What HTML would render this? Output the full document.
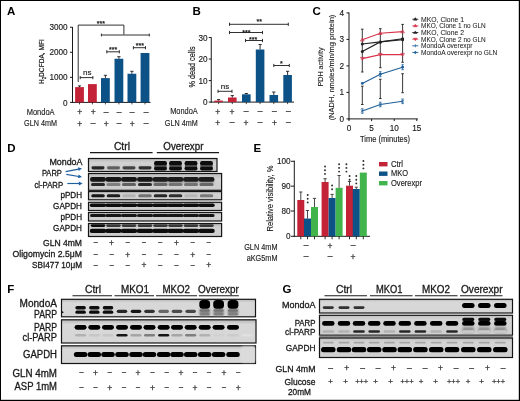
<!DOCTYPE html>
<html><head><meta charset="utf-8"><style>
html,body{margin:0;padding:0;background:#fff;}
svg{display:block;will-change:transform;}
text{font-family:"Liberation Sans",sans-serif;}
</style></head><body>
<svg width="520" height="401" viewBox="0 0 520 401" font-family="Liberation Sans, sans-serif">
<rect width="520" height="401" fill="#fff"/>
<text x="7" y="15.2" font-size="11.5" fill="#000" font-weight="bold">A</text>
<text x="192.5" y="15.2" font-size="11.5" fill="#000" font-weight="bold">B</text>
<text x="312.5" y="15.2" font-size="11.5" fill="#000" font-weight="bold">C</text>
<text x="7.3" y="151.9" font-size="11.5" fill="#000" font-weight="bold">D</text>
<text x="253.4" y="151.9" font-size="11.5" fill="#000" font-weight="bold">E</text>
<text x="7.3" y="293.2" font-size="11.5" fill="#000" font-weight="bold">F</text>
<text x="282.5" y="293.2" font-size="11.5" fill="#000" font-weight="bold">G</text>
<line x1="72.5" y1="27" x2="72.5" y2="102.9" stroke="#1a1a1a" stroke-width="1"/>
<line x1="72.0" y1="102.4" x2="150.5" y2="102.4" stroke="#1a1a1a" stroke-width="1"/>
<line x1="70" y1="27.250000000000014" x2="72.5" y2="27.250000000000014" stroke="#1a1a1a" stroke-width="1"/>
<text x="67.6" y="30.350000000000016" font-size="8.2" fill="#1a1a1a" text-anchor="end" stroke="#1a1a1a" stroke-width="0.14">3000</text>
<line x1="70" y1="52.300000000000004" x2="72.5" y2="52.300000000000004" stroke="#1a1a1a" stroke-width="1"/>
<text x="67.6" y="55.400000000000006" font-size="8.2" fill="#1a1a1a" text-anchor="end" stroke="#1a1a1a" stroke-width="0.14">2000</text>
<line x1="70" y1="77.35000000000001" x2="72.5" y2="77.35000000000001" stroke="#1a1a1a" stroke-width="1"/>
<text x="67.6" y="80.45" font-size="8.2" fill="#1a1a1a" text-anchor="end" stroke="#1a1a1a" stroke-width="0.14">1000</text>
<line x1="70" y1="102.4" x2="72.5" y2="102.4" stroke="#1a1a1a" stroke-width="1"/>
<text x="67.6" y="105.5" font-size="8.2" fill="#1a1a1a" text-anchor="end" stroke="#1a1a1a" stroke-width="0.14">0</text>
<text x="0" y="0" font-size="7.9" fill="#1a1a1a" stroke="#1a1a1a" stroke-width="0.2" text-anchor="middle" textLength="45" lengthAdjust="spacingAndGlyphs" transform="translate(43.7,61.6) rotate(-90)">H<tspan font-size="5.2" dy="1.8">2</tspan><tspan dy="-1.8">DCFDA, MFI</tspan></text>
<rect x="75.1" y="87.1" width="8.8" height="15.300000000000011" fill="#c42237"/>
<line x1="79.5" y1="87.1" x2="79.5" y2="85.9" stroke="#1a1a1a" stroke-width="0.9"/>
<line x1="77.9" y1="85.9" x2="81.1" y2="85.9" stroke="#1a1a1a" stroke-width="0.9"/>
<line x1="79.5" y1="102.4" x2="79.5" y2="104.4" stroke="#1a1a1a" stroke-width="0.8"/>
<rect x="88" y="84.1" width="8.8" height="18.30000000000001" fill="#c42237"/>
<line x1="92.4" y1="102.4" x2="92.4" y2="104.4" stroke="#1a1a1a" stroke-width="0.8"/>
<rect x="101" y="78.1" width="8.8" height="24.30000000000001" fill="#0d5287"/>
<line x1="105.4" y1="78.1" x2="105.4" y2="75.3" stroke="#1a1a1a" stroke-width="0.9"/>
<line x1="103.80000000000001" y1="75.3" x2="107.0" y2="75.3" stroke="#1a1a1a" stroke-width="0.9"/>
<line x1="105.4" y1="102.4" x2="105.4" y2="104.4" stroke="#1a1a1a" stroke-width="0.8"/>
<rect x="114.5" y="58.75" width="8.8" height="43.650000000000006" fill="#0d5287"/>
<line x1="118.9" y1="58.75" x2="118.9" y2="56.7" stroke="#1a1a1a" stroke-width="0.9"/>
<line x1="117.30000000000001" y1="56.7" x2="120.5" y2="56.7" stroke="#1a1a1a" stroke-width="0.9"/>
<line x1="118.9" y1="102.4" x2="118.9" y2="104.4" stroke="#1a1a1a" stroke-width="0.8"/>
<rect x="127.5" y="73.75" width="8.8" height="28.650000000000006" fill="#0d5287"/>
<line x1="131.9" y1="73.75" x2="131.9" y2="71.3" stroke="#1a1a1a" stroke-width="0.9"/>
<line x1="130.3" y1="71.3" x2="133.5" y2="71.3" stroke="#1a1a1a" stroke-width="0.9"/>
<line x1="131.9" y1="102.4" x2="131.9" y2="104.4" stroke="#1a1a1a" stroke-width="0.8"/>
<rect x="140.6" y="53" width="8.8" height="49.400000000000006" fill="#0d5287"/>
<line x1="145.0" y1="102.4" x2="145.0" y2="104.4" stroke="#1a1a1a" stroke-width="0.8"/>
<path d="M78.2,82 V25.1 H123.9 V34.5" stroke="#1a1a1a" stroke-width="0.9" fill="none"/>
<path d="M101.4,33.6 V36.4 M101.4,35 H149.3 M149.3,33.6 V36.4" stroke="#1a1a1a" stroke-width="0.9" fill="none"/>
<path d="M80.2,76 V79.2 M80.2,77.6 H92.9 M92.9,76 V79.2" stroke="#1a1a1a" stroke-width="0.9" fill="none"/>
<path d="M106.8,50.2 V53.4 M106.8,51.8 H119.3 M119.3,50.2 V53.4" stroke="#1a1a1a" stroke-width="0.9" fill="none"/>
<path d="M133.4,46.1 V49.3 M133.4,47.7 H145.5 M145.5,46.1 V49.3" stroke="#1a1a1a" stroke-width="0.9" fill="none"/>
<text x="100.8" y="25.7" font-size="7" fill="#1a1a1a" text-anchor="middle" stroke="#1a1a1a" stroke-width="0.25">***</text>
<text x="113.2" y="51.6" font-size="7" fill="#1a1a1a" text-anchor="middle" stroke="#1a1a1a" stroke-width="0.25">***</text>
<text x="139.8" y="48.3" font-size="7" fill="#1a1a1a" text-anchor="middle" stroke="#1a1a1a" stroke-width="0.25">***</text>
<text x="87.3" y="74.6" font-size="8" fill="#1a1a1a" text-anchor="middle" stroke="#1a1a1a" stroke-width="0.14">ns</text>
<text x="26.7" y="114.6" font-size="9.8" fill="#1a1a1a" textLength="27.9" lengthAdjust="spacingAndGlyphs" stroke="#1a1a1a" stroke-width="0.14">MondoA</text>
<text x="24.1" y="125.6" font-size="9.8" fill="#1a1a1a" textLength="32.9" lengthAdjust="spacingAndGlyphs" stroke="#1a1a1a" stroke-width="0.14">GLN 4mM</text>
<text x="79.7" y="115.4" font-size="8.5" fill="#333" text-anchor="middle" stroke="#333" stroke-width="0.25">+</text>
<text x="79.7" y="127.1" font-size="8.5" fill="#333" text-anchor="middle" stroke="#333" stroke-width="0.25">+</text>
<text x="93.2" y="115.4" font-size="8.5" fill="#333" text-anchor="middle" stroke="#333" stroke-width="0.25">+</text>
<text x="93.2" y="126.2" font-size="8.5" fill="#333" text-anchor="middle" stroke="#333" stroke-width="0.25">–</text>
<text x="106.2" y="114.5" font-size="8.5" fill="#333" text-anchor="middle" stroke="#333" stroke-width="0.25">–</text>
<text x="106.2" y="127.1" font-size="8.5" fill="#333" text-anchor="middle" stroke="#333" stroke-width="0.25">+</text>
<text x="119.2" y="114.5" font-size="8.5" fill="#333" text-anchor="middle" stroke="#333" stroke-width="0.25">–</text>
<text x="119.2" y="126.2" font-size="8.5" fill="#333" text-anchor="middle" stroke="#333" stroke-width="0.25">–</text>
<text x="132.2" y="114.5" font-size="8.5" fill="#333" text-anchor="middle" stroke="#333" stroke-width="0.25">–</text>
<text x="132.2" y="127.1" font-size="8.5" fill="#333" text-anchor="middle" stroke="#333" stroke-width="0.25">+</text>
<text x="146.1" y="114.5" font-size="8.5" fill="#333" text-anchor="middle" stroke="#333" stroke-width="0.25">–</text>
<text x="146.1" y="126.2" font-size="8.5" fill="#333" text-anchor="middle" stroke="#333" stroke-width="0.25">–</text>
<line x1="211.25" y1="37.3" x2="211.25" y2="102.6" stroke="#1a1a1a" stroke-width="1"/>
<line x1="210.75" y1="102.1" x2="294" y2="102.1" stroke="#1a1a1a" stroke-width="1"/>
<line x1="208.8" y1="37.50999999999999" x2="211.25" y2="37.50999999999999" stroke="#1a1a1a" stroke-width="1"/>
<text x="207.6" y="40.60999999999999" font-size="8.2" fill="#1a1a1a" text-anchor="end" stroke="#1a1a1a" stroke-width="0.14">30</text>
<line x1="208.8" y1="59.03999999999999" x2="211.25" y2="59.03999999999999" stroke="#1a1a1a" stroke-width="1"/>
<text x="207.6" y="62.13999999999999" font-size="8.2" fill="#1a1a1a" text-anchor="end" stroke="#1a1a1a" stroke-width="0.14">20</text>
<line x1="208.8" y1="80.57" x2="211.25" y2="80.57" stroke="#1a1a1a" stroke-width="1"/>
<text x="207.6" y="83.66999999999999" font-size="8.2" fill="#1a1a1a" text-anchor="end" stroke="#1a1a1a" stroke-width="0.14">10</text>
<line x1="208.8" y1="102.1" x2="211.25" y2="102.1" stroke="#1a1a1a" stroke-width="1"/>
<text x="207.6" y="105.19999999999999" font-size="8.2" fill="#1a1a1a" text-anchor="end" stroke="#1a1a1a" stroke-width="0.14">0</text>
<text x="0" y="0" font-size="9.6" fill="#1a1a1a" stroke="#1a1a1a" stroke-width="0.2" text-anchor="middle" textLength="41" lengthAdjust="spacingAndGlyphs" transform="translate(194.9,67) rotate(-90)">% dead cells</text>
<rect x="214.3" y="100.6" width="8.6" height="1.5" fill="#c42237"/>
<line x1="218.60000000000002" y1="100.6" x2="218.60000000000002" y2="99.6" stroke="#1a1a1a" stroke-width="0.9"/>
<line x1="217.00000000000003" y1="99.6" x2="220.20000000000002" y2="99.6" stroke="#1a1a1a" stroke-width="0.9"/>
<line x1="218.60000000000002" y1="102.1" x2="218.60000000000002" y2="104.1" stroke="#1a1a1a" stroke-width="0.8"/>
<rect x="228" y="97.5" width="8.6" height="4.599999999999994" fill="#c42237"/>
<line x1="232.3" y1="97.5" x2="232.3" y2="95.6" stroke="#1a1a1a" stroke-width="0.9"/>
<line x1="230.70000000000002" y1="95.6" x2="233.9" y2="95.6" stroke="#1a1a1a" stroke-width="0.9"/>
<line x1="232.3" y1="102.1" x2="232.3" y2="104.1" stroke="#1a1a1a" stroke-width="0.8"/>
<rect x="242" y="94.3" width="8.6" height="7.799999999999997" fill="#0d5287"/>
<line x1="246.3" y1="94.3" x2="246.3" y2="93.5" stroke="#1a1a1a" stroke-width="0.9"/>
<line x1="244.70000000000002" y1="93.5" x2="247.9" y2="93.5" stroke="#1a1a1a" stroke-width="0.9"/>
<line x1="246.3" y1="102.1" x2="246.3" y2="104.1" stroke="#1a1a1a" stroke-width="0.8"/>
<rect x="255.8" y="49.5" width="8.6" height="52.599999999999994" fill="#0d5287"/>
<line x1="260.1" y1="49.5" x2="260.1" y2="44.5" stroke="#1a1a1a" stroke-width="0.9"/>
<line x1="258.5" y1="44.5" x2="261.70000000000005" y2="44.5" stroke="#1a1a1a" stroke-width="0.9"/>
<line x1="260.1" y1="102.1" x2="260.1" y2="104.1" stroke="#1a1a1a" stroke-width="0.8"/>
<rect x="269.5" y="95" width="8.6" height="7.099999999999994" fill="#0d5287"/>
<line x1="273.8" y1="95" x2="273.8" y2="92" stroke="#1a1a1a" stroke-width="0.9"/>
<line x1="272.2" y1="92" x2="275.40000000000003" y2="92" stroke="#1a1a1a" stroke-width="0.9"/>
<line x1="273.8" y1="102.1" x2="273.8" y2="104.1" stroke="#1a1a1a" stroke-width="0.8"/>
<rect x="283.3" y="75" width="8.6" height="27.099999999999994" fill="#0d5287"/>
<line x1="287.6" y1="75" x2="287.6" y2="71.3" stroke="#1a1a1a" stroke-width="0.9"/>
<line x1="286.0" y1="71.3" x2="289.20000000000005" y2="71.3" stroke="#1a1a1a" stroke-width="0.9"/>
<line x1="287.6" y1="102.1" x2="287.6" y2="104.1" stroke="#1a1a1a" stroke-width="0.8"/>
<path d="M229.5,22.7 V25.900000000000002 M229.5,24.3 H288.3 M288.3,22.7 V25.900000000000002" stroke="#1a1a1a" stroke-width="0.9" fill="none"/>
<text x="259.3" y="24.4" font-size="7" fill="#1a1a1a" text-anchor="middle" stroke="#1a1a1a" stroke-width="0.25">**</text>
<path d="M229.5,30.9 V34.1 M229.5,32.5 H262.5 M262.5,30.9 V34.1" stroke="#1a1a1a" stroke-width="0.9" fill="none"/>
<text x="246.3" y="35.1" font-size="7" fill="#1a1a1a" text-anchor="middle" stroke="#1a1a1a" stroke-width="0.25">***</text>
<path d="M245.5,38.9 V42.1 M245.5,40.5 H262.5 M262.5,38.9 V42.1" stroke="#1a1a1a" stroke-width="0.9" fill="none"/>
<text x="253.2" y="41.7" font-size="7" fill="#1a1a1a" text-anchor="middle" stroke="#1a1a1a" stroke-width="0.25">***</text>
<path d="M273.8,63.9 V67.1 M273.8,65.5 H289.3 M289.3,63.9 V67.1" stroke="#1a1a1a" stroke-width="0.9" fill="none"/>
<text x="281.3" y="66.0" font-size="7" fill="#1a1a1a" text-anchor="middle" stroke="#1a1a1a" stroke-width="0.25">*</text>
<path d="M218,89.7 V92.89999999999999 M218,91.3 H232 M232,89.7 V92.89999999999999" stroke="#1a1a1a" stroke-width="0.9" fill="none"/>
<text x="225" y="89.0" font-size="8" fill="#1a1a1a" text-anchor="middle" stroke="#1a1a1a" stroke-width="0.14">ns</text>
<text x="170.2" y="114.3" font-size="9.8" fill="#1a1a1a" textLength="27.5" lengthAdjust="spacingAndGlyphs" stroke="#1a1a1a" stroke-width="0.14">MondoA</text>
<text x="164.8" y="125.6" font-size="9.8" fill="#1a1a1a" textLength="32.9" lengthAdjust="spacingAndGlyphs" stroke="#1a1a1a" stroke-width="0.14">GLN 4mM</text>
<text x="217.8" y="114.9" font-size="8.5" fill="#333" text-anchor="middle" stroke="#333" stroke-width="0.25">+</text>
<text x="217.8" y="126.1" font-size="8.5" fill="#333" text-anchor="middle" stroke="#333" stroke-width="0.25">+</text>
<text x="232.1" y="114.9" font-size="8.5" fill="#333" text-anchor="middle" stroke="#333" stroke-width="0.25">+</text>
<text x="232.1" y="125.2" font-size="8.5" fill="#333" text-anchor="middle" stroke="#333" stroke-width="0.25">–</text>
<text x="246.1" y="114.0" font-size="8.5" fill="#333" text-anchor="middle" stroke="#333" stroke-width="0.25">–</text>
<text x="246.1" y="126.1" font-size="8.5" fill="#333" text-anchor="middle" stroke="#333" stroke-width="0.25">+</text>
<text x="260.1" y="114.0" font-size="8.5" fill="#333" text-anchor="middle" stroke="#333" stroke-width="0.25">–</text>
<text x="260.1" y="125.2" font-size="8.5" fill="#333" text-anchor="middle" stroke="#333" stroke-width="0.25">–</text>
<text x="274.4" y="114.0" font-size="8.5" fill="#333" text-anchor="middle" stroke="#333" stroke-width="0.25">–</text>
<text x="274.4" y="126.1" font-size="8.5" fill="#333" text-anchor="middle" stroke="#333" stroke-width="0.25">+</text>
<text x="288.4" y="114.0" font-size="8.5" fill="#333" text-anchor="middle" stroke="#333" stroke-width="0.25">–</text>
<text x="288.4" y="125.2" font-size="8.5" fill="#333" text-anchor="middle" stroke="#333" stroke-width="0.25">–</text>
<line x1="349" y1="12.5" x2="349" y2="119.4" stroke="#1a1a1a" stroke-width="1"/>
<line x1="348.5" y1="118.9" x2="417.8" y2="118.9" stroke="#1a1a1a" stroke-width="1"/>
<line x1="346.5" y1="118.9" x2="349" y2="118.9" stroke="#1a1a1a" stroke-width="1"/>
<text x="344" y="121.9" font-size="8.2" fill="#1a1a1a" text-anchor="end" stroke="#1a1a1a" stroke-width="0.14">0</text>
<line x1="346.5" y1="92.4" x2="349" y2="92.4" stroke="#1a1a1a" stroke-width="1"/>
<text x="344" y="95.4" font-size="8.2" fill="#1a1a1a" text-anchor="end" stroke="#1a1a1a" stroke-width="0.14">1</text>
<line x1="346.5" y1="65.9" x2="349" y2="65.9" stroke="#1a1a1a" stroke-width="1"/>
<text x="344" y="68.9" font-size="8.2" fill="#1a1a1a" text-anchor="end" stroke="#1a1a1a" stroke-width="0.14">2</text>
<line x1="346.5" y1="39.400000000000006" x2="349" y2="39.400000000000006" stroke="#1a1a1a" stroke-width="1"/>
<text x="344" y="42.400000000000006" font-size="8.2" fill="#1a1a1a" text-anchor="end" stroke="#1a1a1a" stroke-width="0.14">3</text>
<line x1="346.5" y1="12.900000000000006" x2="349" y2="12.900000000000006" stroke="#1a1a1a" stroke-width="1"/>
<text x="344" y="15.900000000000006" font-size="8.2" fill="#1a1a1a" text-anchor="end" stroke="#1a1a1a" stroke-width="0.14">4</text>
<line x1="349.0" y1="118.9" x2="349.0" y2="121.10000000000001" stroke="#1a1a1a" stroke-width="1"/>
<text x="349.0" y="131" font-size="8.2" fill="#1a1a1a" text-anchor="middle" stroke="#1a1a1a" stroke-width="0.14">0</text>
<line x1="371.6" y1="118.9" x2="371.6" y2="121.10000000000001" stroke="#1a1a1a" stroke-width="1"/>
<text x="371.6" y="131" font-size="8.2" fill="#1a1a1a" text-anchor="middle" stroke="#1a1a1a" stroke-width="0.14">5</text>
<line x1="394.2" y1="118.9" x2="394.2" y2="121.10000000000001" stroke="#1a1a1a" stroke-width="1"/>
<text x="394.2" y="131" font-size="8.2" fill="#1a1a1a" text-anchor="middle" stroke="#1a1a1a" stroke-width="0.14">10</text>
<line x1="416.8" y1="118.9" x2="416.8" y2="121.10000000000001" stroke="#1a1a1a" stroke-width="1"/>
<text x="416.8" y="131" font-size="8.2" fill="#1a1a1a" text-anchor="middle" stroke="#1a1a1a" stroke-width="0.14">15</text>
<text x="385" y="141.6" font-size="8.6" fill="#1a1a1a" text-anchor="middle" textLength="50" lengthAdjust="spacingAndGlyphs" stroke="#1a1a1a" stroke-width="0.14">Time (minutes)</text>
<text x="0" y="0" font-size="7.9" fill="#1a1a1a" stroke="#1a1a1a" stroke-width="0.1" text-anchor="middle" textLength="39" lengthAdjust="spacingAndGlyphs" transform="translate(323.2,67) rotate(-90)">PDH activity</text>
<text x="0" y="0" font-size="7.9" fill="#1a1a1a" stroke="#1a1a1a" stroke-width="0.1" text-anchor="middle" textLength="105.6" lengthAdjust="spacingAndGlyphs" transform="translate(334,67.5) rotate(-90)">(NADH, nmoles/min/mg protein)</text>
<line x1="362.3" y1="29.2" x2="362.3" y2="72" stroke="#222" stroke-width="0.9"/>
<line x1="361.0" y1="29.2" x2="363.6" y2="29.2" stroke="#222" stroke-width="0.9"/>
<line x1="361.0" y1="72" x2="363.6" y2="72" stroke="#222" stroke-width="0.9"/>
<line x1="362.3" y1="86.2" x2="362.3" y2="104.5" stroke="#222" stroke-width="0.9"/>
<line x1="361.0" y1="86.2" x2="363.6" y2="86.2" stroke="#222" stroke-width="0.9"/>
<line x1="361.0" y1="104.5" x2="363.6" y2="104.5" stroke="#222" stroke-width="0.9"/>
<line x1="380.3" y1="28.7" x2="380.3" y2="67.7" stroke="#222" stroke-width="0.9"/>
<line x1="379.0" y1="28.7" x2="381.6" y2="28.7" stroke="#222" stroke-width="0.9"/>
<line x1="379.0" y1="67.7" x2="381.6" y2="67.7" stroke="#222" stroke-width="0.9"/>
<line x1="380.3" y1="79.3" x2="380.3" y2="98.5" stroke="#222" stroke-width="0.9"/>
<line x1="379.0" y1="79.3" x2="381.6" y2="79.3" stroke="#222" stroke-width="0.9"/>
<line x1="379.0" y1="98.5" x2="381.6" y2="98.5" stroke="#222" stroke-width="0.9"/>
<line x1="402.6" y1="24.4" x2="402.6" y2="62.3" stroke="#222" stroke-width="0.9"/>
<line x1="401.3" y1="24.4" x2="403.90000000000003" y2="24.4" stroke="#222" stroke-width="0.9"/>
<line x1="401.3" y1="62.3" x2="403.90000000000003" y2="62.3" stroke="#222" stroke-width="0.9"/>
<line x1="402.6" y1="73.7" x2="402.6" y2="92.7" stroke="#222" stroke-width="0.9"/>
<line x1="401.3" y1="73.7" x2="403.90000000000003" y2="73.7" stroke="#222" stroke-width="0.9"/>
<line x1="401.3" y1="92.7" x2="403.90000000000003" y2="92.7" stroke="#222" stroke-width="0.9"/>
<polyline points="362.3,44 380.3,41.9 402.6,38.8" fill="none" stroke="#222" stroke-width="1.1"/>
<circle cx="362.3" cy="44" r="1.5" fill="#222"/>
<circle cx="380.3" cy="41.9" r="1.5" fill="#222"/>
<circle cx="402.6" cy="38.8" r="1.5" fill="#222"/>
<polyline points="362.3,51.5 380.3,41.9 402.6,39.8" fill="none" stroke="#222" stroke-width="1.1"/>
<circle cx="362.3" cy="51.5" r="1.5" fill="#222"/>
<circle cx="380.3" cy="41.9" r="1.5" fill="#222"/>
<circle cx="402.6" cy="39.8" r="1.5" fill="#222"/>
<polyline points="362.3,39.8 380.3,33.3 402.6,31.6" fill="none" stroke="#d8344b" stroke-width="1.1"/>
<path d="M360.5,41.0 L362.3,38.0 L364.1,41.0 Z" fill="none" stroke="#d8344b" stroke-width="0.8"/>
<path d="M378.5,34.5 L380.3,31.499999999999996 L382.1,34.5 Z" fill="none" stroke="#d8344b" stroke-width="0.8"/>
<path d="M400.8,32.800000000000004 L402.6,29.8 L404.40000000000003,32.800000000000004 Z" fill="none" stroke="#d8344b" stroke-width="0.8"/>
<polyline points="362.3,58.6 380.3,54.6 402.6,54.6" fill="none" stroke="#d8344b" stroke-width="1.1"/>
<path d="M360.5,57.4 L362.3,60.4 L364.1,57.4 Z" fill="none" stroke="#d8344b" stroke-width="0.8"/>
<path d="M378.5,53.4 L380.3,56.4 L382.1,53.4 Z" fill="none" stroke="#d8344b" stroke-width="0.8"/>
<path d="M400.8,53.4 L402.6,56.4 L404.40000000000003,53.4 Z" fill="none" stroke="#d8344b" stroke-width="0.8"/>
<polyline points="362.3,83.4 380.3,74.2 402.6,67.2" fill="none" stroke="#1f5f99" stroke-width="1.1"/>
<circle cx="362.3" cy="83.4" r="1.4" fill="#1f5f99"/>
<circle cx="380.3" cy="74.2" r="1.4" fill="#1f5f99"/>
<circle cx="402.6" cy="67.2" r="1.4" fill="#1f5f99"/>
<polyline points="362.3,111 380.3,104.5 402.6,101.3" fill="none" stroke="#1f5f99" stroke-width="1.1"/>
<path d="M360.90000000000003,109.6 L363.7,112.4 M360.90000000000003,112.4 L363.7,109.6" stroke="#1f5f99" stroke-width="0.7"/>
<path d="M378.90000000000003,103.1 L381.7,105.9 M378.90000000000003,105.9 L381.7,103.1" stroke="#1f5f99" stroke-width="0.7"/>
<path d="M401.20000000000005,99.89999999999999 L404.0,102.7 M401.20000000000005,102.7 L404.0,99.89999999999999" stroke="#1f5f99" stroke-width="0.7"/>
<line x1="380.3" y1="71.7" x2="380.3" y2="76.7" stroke="#1f5f99" stroke-width="0.8"/>
<line x1="379.1" y1="71.7" x2="381.5" y2="71.7" stroke="#1f5f99" stroke-width="0.8"/>
<line x1="379.1" y1="76.7" x2="381.5" y2="76.7" stroke="#1f5f99" stroke-width="0.8"/>
<line x1="402.6" y1="64.7" x2="402.6" y2="69.7" stroke="#1f5f99" stroke-width="0.8"/>
<line x1="401.40000000000003" y1="64.7" x2="403.8" y2="64.7" stroke="#1f5f99" stroke-width="0.8"/>
<line x1="401.40000000000003" y1="69.7" x2="403.8" y2="69.7" stroke="#1f5f99" stroke-width="0.8"/>
<line x1="362.3" y1="108.7" x2="362.3" y2="113.3" stroke="#1f5f99" stroke-width="0.8"/>
<line x1="361.1" y1="108.7" x2="363.5" y2="108.7" stroke="#1f5f99" stroke-width="0.8"/>
<line x1="361.1" y1="113.3" x2="363.5" y2="113.3" stroke="#1f5f99" stroke-width="0.8"/>
<line x1="380.3" y1="102.2" x2="380.3" y2="106.8" stroke="#1f5f99" stroke-width="0.8"/>
<line x1="379.1" y1="102.2" x2="381.5" y2="102.2" stroke="#1f5f99" stroke-width="0.8"/>
<line x1="379.1" y1="106.8" x2="381.5" y2="106.8" stroke="#1f5f99" stroke-width="0.8"/>
<line x1="402.6" y1="99.0" x2="402.6" y2="103.6" stroke="#1f5f99" stroke-width="0.8"/>
<line x1="401.40000000000003" y1="99.0" x2="403.8" y2="99.0" stroke="#1f5f99" stroke-width="0.8"/>
<line x1="401.40000000000003" y1="103.6" x2="403.8" y2="103.6" stroke="#1f5f99" stroke-width="0.8"/>
<line x1="412.3" y1="19.2" x2="418.3" y2="19.2" stroke="#222" stroke-width="0.9"/>
<path d="M413.6,20.2 L415.3,17.599999999999998 L417.0,20.2 Z" fill="#222" stroke="#222" stroke-width="0.5"/>
<text x="421" y="21.7" font-size="7.2" fill="#1a1a1a" textLength="43" lengthAdjust="spacingAndGlyphs" stroke="#1a1a1a" stroke-width="0.05">MKO, Clone 1</text>
<line x1="412.3" y1="25.85" x2="418.3" y2="25.85" stroke="#d8344b" stroke-width="0.9"/>
<path d="M413.6,26.85 L415.3,24.25 L417.0,26.85 Z" fill="#d8344b" stroke="#d8344b" stroke-width="0.5"/>
<text x="421" y="28.35" font-size="7.2" fill="#1a1a1a" textLength="64.7" lengthAdjust="spacingAndGlyphs" stroke="#1a1a1a" stroke-width="0.05">MKO, Clone 1 no GLN</text>
<line x1="412.3" y1="32.5" x2="418.3" y2="32.5" stroke="#222" stroke-width="0.9"/>
<path d="M413.6,33.5 L415.3,30.9 L417.0,33.5 Z" fill="#222" stroke="#222" stroke-width="0.5"/>
<text x="421" y="35.0" font-size="7.2" fill="#1a1a1a" textLength="43" lengthAdjust="spacingAndGlyphs" stroke="#1a1a1a" stroke-width="0.05">MKO, Clone 2</text>
<line x1="412.3" y1="39.150000000000006" x2="418.3" y2="39.150000000000006" stroke="#d8344b" stroke-width="0.9"/>
<path d="M413.6,38.150000000000006 L415.3,40.75000000000001 L417.0,38.150000000000006 Z" fill="#d8344b" stroke="#d8344b" stroke-width="0.5"/>
<text x="421" y="41.650000000000006" font-size="7.2" fill="#1a1a1a" textLength="64.7" lengthAdjust="spacingAndGlyphs" stroke="#1a1a1a" stroke-width="0.05">MKO, Clone 2 no GLN</text>
<line x1="412.3" y1="45.8" x2="418.3" y2="45.8" stroke="#1f5f99" stroke-width="0.9"/>
<line x1="415.3" y1="44.3" x2="415.3" y2="47.3" stroke="#1f5f99" stroke-width="0.8"/>
<text x="421" y="48.3" font-size="7.2" fill="#1a1a1a" textLength="51.5" lengthAdjust="spacingAndGlyphs" stroke="#1a1a1a" stroke-width="0.05">MondoA overexpr</text>
<line x1="412.3" y1="52.45" x2="418.3" y2="52.45" stroke="#1f5f99" stroke-width="0.9"/>
<path d="M415.3,50.650000000000006 L416.8,52.45 L415.3,54.25 L413.8,52.45 Z" fill="#1f5f99"/>
<text x="421" y="54.95" font-size="7.2" fill="#1a1a1a" textLength="76.4" lengthAdjust="spacingAndGlyphs" stroke="#1a1a1a" stroke-width="0.05">MondoA overexpr no GLN</text>
<line x1="294.3" y1="160.6" x2="294.3" y2="236.8" stroke="#1a1a1a" stroke-width="1"/>
<line x1="293.8" y1="236.3" x2="370" y2="236.3" stroke="#1a1a1a" stroke-width="1"/>
<line x1="291" y1="161.3" x2="294.3" y2="161.3" stroke="#1a1a1a" stroke-width="1"/>
<text x="290.6" y="164.4" font-size="8.2" fill="#1a1a1a" text-anchor="end" stroke="#1a1a1a" stroke-width="0.14">100</text>
<line x1="291" y1="186.15" x2="294.3" y2="186.15" stroke="#1a1a1a" stroke-width="1"/>
<text x="290.6" y="189.25" font-size="8.2" fill="#1a1a1a" text-anchor="end" stroke="#1a1a1a" stroke-width="0.14">90</text>
<line x1="291" y1="211.0" x2="294.3" y2="211.0" stroke="#1a1a1a" stroke-width="1"/>
<text x="290.6" y="214.1" font-size="8.2" fill="#1a1a1a" text-anchor="end" stroke="#1a1a1a" stroke-width="0.14">80</text>
<line x1="291" y1="236.3" x2="294.3" y2="236.3" stroke="#1a1a1a" stroke-width="1"/>
<text x="290.6" y="239.4" font-size="8.2" fill="#1a1a1a" text-anchor="end" stroke="#1a1a1a" stroke-width="0.14">0</text>
<text x="0" y="0" font-size="8.8" fill="#1a1a1a" stroke="#1a1a1a" stroke-width="0.12" text-anchor="middle" textLength="66" lengthAdjust="spacingAndGlyphs" transform="translate(272.8,198.5) rotate(-90)">Relative visibility, %</text>
<rect x="297.3" y="200" width="7" height="36.30000000000001" fill="#c42237"/>
<line x1="300.8" y1="200" x2="300.8" y2="192" stroke="#333" stroke-width="0.9"/>
<line x1="299.2" y1="192" x2="302.40000000000003" y2="192" stroke="#333" stroke-width="0.9"/>
<line x1="300.8" y1="236.3" x2="300.8" y2="239.3" stroke="#1a1a1a" stroke-width="0.9"/>
<rect x="304" y="218.5" width="7" height="17.80000000000001" fill="#0d5287"/>
<line x1="307.5" y1="218.5" x2="307.5" y2="210.5" stroke="#333" stroke-width="0.9"/>
<line x1="305.9" y1="210.5" x2="309.1" y2="210.5" stroke="#333" stroke-width="0.9"/>
<line x1="307.5" y1="236.3" x2="307.5" y2="239.3" stroke="#1a1a1a" stroke-width="0.9"/>
<rect x="311" y="207" width="7" height="29.30000000000001" fill="#41b44b"/>
<line x1="314.5" y1="207" x2="314.5" y2="198.4" stroke="#333" stroke-width="0.9"/>
<line x1="312.9" y1="198.4" x2="316.1" y2="198.4" stroke="#333" stroke-width="0.9"/>
<line x1="314.5" y1="236.3" x2="314.5" y2="239.3" stroke="#1a1a1a" stroke-width="0.9"/>
<rect x="321.6" y="182" width="7" height="54.30000000000001" fill="#c42237"/>
<line x1="325.1" y1="182" x2="325.1" y2="178.7" stroke="#333" stroke-width="0.9"/>
<line x1="323.5" y1="178.7" x2="326.70000000000005" y2="178.7" stroke="#333" stroke-width="0.9"/>
<line x1="325.1" y1="236.3" x2="325.1" y2="239.3" stroke="#1a1a1a" stroke-width="0.9"/>
<rect x="328.6" y="198" width="7" height="38.30000000000001" fill="#0d5287"/>
<line x1="332.1" y1="198" x2="332.1" y2="194.4" stroke="#333" stroke-width="0.9"/>
<line x1="330.5" y1="194.4" x2="333.70000000000005" y2="194.4" stroke="#333" stroke-width="0.9"/>
<line x1="332.1" y1="236.3" x2="332.1" y2="239.3" stroke="#1a1a1a" stroke-width="0.9"/>
<rect x="335.6" y="187.8" width="7" height="48.5" fill="#41b44b"/>
<line x1="339.1" y1="187.8" x2="339.1" y2="175.5" stroke="#333" stroke-width="0.9"/>
<line x1="337.5" y1="175.5" x2="340.70000000000005" y2="175.5" stroke="#333" stroke-width="0.9"/>
<line x1="339.1" y1="236.3" x2="339.1" y2="239.3" stroke="#1a1a1a" stroke-width="0.9"/>
<rect x="346" y="185.7" width="7" height="50.60000000000002" fill="#c42237"/>
<line x1="349.5" y1="185.7" x2="349.5" y2="181.5" stroke="#333" stroke-width="0.9"/>
<line x1="347.9" y1="181.5" x2="351.1" y2="181.5" stroke="#333" stroke-width="0.9"/>
<line x1="349.5" y1="236.3" x2="349.5" y2="239.3" stroke="#1a1a1a" stroke-width="0.9"/>
<rect x="352.8" y="189" width="7" height="47.30000000000001" fill="#0d5287"/>
<line x1="356.3" y1="189" x2="356.3" y2="187.2" stroke="#333" stroke-width="0.9"/>
<line x1="354.7" y1="187.2" x2="357.90000000000003" y2="187.2" stroke="#333" stroke-width="0.9"/>
<line x1="356.3" y1="236.3" x2="356.3" y2="239.3" stroke="#1a1a1a" stroke-width="0.9"/>
<rect x="359.8" y="172.6" width="7" height="63.70000000000002" fill="#41b44b"/>
<line x1="363.3" y1="236.3" x2="363.3" y2="239.3" stroke="#1a1a1a" stroke-width="0.9"/>
<circle cx="307.7" cy="195.0" r="0.95" fill="#2a2a2a"/>
<circle cx="307.7" cy="198.7" r="0.95" fill="#2a2a2a"/>
<circle cx="307.7" cy="202.4" r="0.95" fill="#2a2a2a"/>
<circle cx="325" cy="166.5" r="0.95" fill="#2a2a2a"/>
<circle cx="325" cy="170.2" r="0.95" fill="#2a2a2a"/>
<circle cx="325" cy="173.9" r="0.95" fill="#2a2a2a"/>
<circle cx="332.1" cy="185.5" r="0.95" fill="#2a2a2a"/>
<circle cx="332.1" cy="189.2" r="0.95" fill="#2a2a2a"/>
<circle cx="339.1" cy="164.2" r="0.95" fill="#2a2a2a"/>
<circle cx="339.1" cy="167.89999999999998" r="0.95" fill="#2a2a2a"/>
<circle cx="339.1" cy="171.6" r="0.95" fill="#2a2a2a"/>
<circle cx="346.4" cy="164.2" r="0.95" fill="#2a2a2a"/>
<circle cx="346.4" cy="167.89999999999998" r="0.95" fill="#2a2a2a"/>
<circle cx="346.4" cy="171.6" r="0.95" fill="#2a2a2a"/>
<circle cx="349.6" cy="176.0" r="0.95" fill="#2a2a2a"/>
<circle cx="349.6" cy="179.7" r="0.95" fill="#2a2a2a"/>
<circle cx="356.3" cy="176.0" r="0.95" fill="#2a2a2a"/>
<circle cx="356.3" cy="179.7" r="0.95" fill="#2a2a2a"/>
<circle cx="356.3" cy="183.4" r="0.95" fill="#2a2a2a"/>
<circle cx="363.4" cy="161.0" r="0.95" fill="#2a2a2a"/>
<circle cx="363.4" cy="164.7" r="0.95" fill="#2a2a2a"/>
<circle cx="363.4" cy="168.4" r="0.95" fill="#2a2a2a"/>
<rect x="379" y="162.0" width="8.5" height="4.4" fill="#c42237"/>
<text x="391" y="166.6" font-size="8.2" fill="#1a1a1a" textLength="12" lengthAdjust="spacingAndGlyphs" stroke="#1a1a1a" stroke-width="0.14">Ctrl</text>
<rect x="379" y="171.5" width="8.5" height="4.4" fill="#0d5287"/>
<text x="391" y="176.1" font-size="8.2" fill="#1a1a1a" textLength="17" lengthAdjust="spacingAndGlyphs" stroke="#1a1a1a" stroke-width="0.14">MKO</text>
<rect x="379" y="181.0" width="8.5" height="4.4" fill="#41b44b"/>
<text x="391" y="185.6" font-size="8.2" fill="#1a1a1a" textLength="31" lengthAdjust="spacingAndGlyphs" stroke="#1a1a1a" stroke-width="0.14">Overexpr</text>
<text x="277.5" y="250" font-size="9.6" fill="#1a1a1a" text-anchor="end" textLength="33.3" lengthAdjust="spacingAndGlyphs" stroke="#1a1a1a" stroke-width="0.14">GLN 4mM</text>
<text x="277.5" y="261.3" font-size="9.6" fill="#1a1a1a" text-anchor="end" textLength="30.8" lengthAdjust="spacingAndGlyphs" stroke="#1a1a1a" stroke-width="0.14">aKG5mM</text>
<text x="306.1" y="247.85" font-size="8.5" fill="#333" text-anchor="middle" stroke="#333" stroke-width="0.25">–</text>
<text x="306.1" y="259.05" font-size="8.5" fill="#333" text-anchor="middle" stroke="#333" stroke-width="0.25">–</text>
<text x="330.1" y="248.75" font-size="8.5" fill="#333" text-anchor="middle" stroke="#333" stroke-width="0.25">+</text>
<text x="330.1" y="259.05" font-size="8.5" fill="#333" text-anchor="middle" stroke="#333" stroke-width="0.25">–</text>
<text x="353.1" y="247.85" font-size="8.5" fill="#333" text-anchor="middle" stroke="#333" stroke-width="0.25">–</text>
<text x="353.1" y="259.95" font-size="8.5" fill="#333" text-anchor="middle" stroke="#333" stroke-width="0.25">+</text>
<defs><filter id="bl" x="-30%" y="-80%" width="160%" height="260%"><feGaussianBlur stdDeviation="0.75"/></filter><filter id="bl2" x="-30%" y="-80%" width="160%" height="260%"><feGaussianBlur stdDeviation="1.2"/></filter><linearGradient id="bgD" x1="0" y1="0" x2="0" y2="1"><stop offset="0" stop-color="#bababa"/><stop offset="0.35" stop-color="#d2d2d2"/><stop offset="1" stop-color="#cbcbcb"/></linearGradient><linearGradient id="bgF" x1="0" y1="0" x2="0" y2="1"><stop offset="0" stop-color="#b8b8b8"/><stop offset="0.2" stop-color="#d8d8d8"/><stop offset="1" stop-color="#d6d6d6"/></linearGradient><linearGradient id="bgG" x1="0" y1="0" x2="0" y2="1"><stop offset="0" stop-color="#c0c0c0"/><stop offset="0.2" stop-color="#d4d4d4"/><stop offset="1" stop-color="#cfcfcf"/></linearGradient></defs>
<text x="113.9" y="150.2" font-size="10" fill="#1a1a1a" textLength="16.1" lengthAdjust="spacingAndGlyphs" stroke="#1a1a1a" stroke-width="0.3">Ctrl</text>
<text x="163.3" y="150.2" font-size="10" fill="#1a1a1a" textLength="40.1" lengthAdjust="spacingAndGlyphs" stroke="#1a1a1a" stroke-width="0.3">Overexpr</text>
<line x1="90" y1="152.6" x2="152.6" y2="152.6" stroke="#1a1a1a" stroke-width="1.1"/>
<line x1="156.8" y1="152.6" x2="219" y2="152.6" stroke="#1a1a1a" stroke-width="1.1"/>
<text x="82.5" y="164.8" font-size="8.9" fill="#1a1a1a" text-anchor="end" textLength="33.1" lengthAdjust="spacingAndGlyphs" stroke="#1a1a1a" stroke-width="0.3">MondoA</text>
<text x="61.9" y="176.3" font-size="8.9" fill="#1a1a1a" text-anchor="end" textLength="20" lengthAdjust="spacingAndGlyphs" stroke="#1a1a1a" stroke-width="0.3">PARP</text>
<text x="63.1" y="187.5" font-size="8.9" fill="#1a1a1a" text-anchor="end" textLength="28.7" lengthAdjust="spacingAndGlyphs" stroke="#1a1a1a" stroke-width="0.3">cl-PARP</text>
<text x="82" y="198.1" font-size="8.9" fill="#1a1a1a" text-anchor="end" textLength="21.6" lengthAdjust="spacingAndGlyphs" stroke="#1a1a1a" stroke-width="0.3">pPDH</text>
<text x="82" y="209.1" font-size="8.9" fill="#1a1a1a" text-anchor="end" textLength="28.9" lengthAdjust="spacingAndGlyphs" stroke="#1a1a1a" stroke-width="0.3">GAPDH</text>
<text x="82" y="220" font-size="8.9" fill="#1a1a1a" text-anchor="end" textLength="21.6" lengthAdjust="spacingAndGlyphs" stroke="#1a1a1a" stroke-width="0.3">pPDH</text>
<text x="82" y="231.4" font-size="8.9" fill="#1a1a1a" text-anchor="end" textLength="28.9" lengthAdjust="spacingAndGlyphs" stroke="#1a1a1a" stroke-width="0.3">GAPDH</text>
<line x1="65.6" y1="171.6" x2="78.75742062602656" y2="169.1129265889828" stroke="#1d5fa0" stroke-width="1.15"/>
<path d="M82.00,168.50 L78.62,171.07 L77.91,167.34 Z" fill="#1d5fa0"/>
<line x1="66.3" y1="174.4" x2="78.74434133749372" y2="176.46084633614547" stroke="#1d5fa0" stroke-width="1.15"/>
<path d="M82.00,177.00 L77.94,178.25 L78.56,174.50 Z" fill="#1d5fa0"/>
<line x1="67.3" y1="183.5" x2="79.3" y2="183.5" stroke="#1d5fa0" stroke-width="1.15"/>
<path d="M82.60,183.50 L78.80,185.40 L78.80,181.60 Z" fill="#1d5fa0"/>
<rect x="88.5" y="158.5" width="128.5" height="13.0" fill="url(#bgD)" stroke="#151515" stroke-width="1.2"/>
<rect x="91.50" y="166.00" width="13.00" height="3.60" rx="1.80" fill="rgb(38,38,38)" filter="url(#bl)"/>
<rect x="92.00" y="164.20" width="12.00" height="2.00" rx="1.00" fill="rgb(204,204,204)" filter="url(#bl)"/>
<rect x="107.00" y="166.00" width="13.00" height="3.60" rx="1.80" fill="rgb(96,96,96)" filter="url(#bl)"/>
<rect x="107.50" y="164.20" width="12.00" height="2.00" rx="1.00" fill="rgb(204,204,204)" filter="url(#bl)"/>
<rect x="122.50" y="166.00" width="13.00" height="3.60" rx="1.80" fill="rgb(66,66,66)" filter="url(#bl)"/>
<rect x="123.00" y="164.20" width="12.00" height="2.00" rx="1.00" fill="rgb(204,204,204)" filter="url(#bl)"/>
<rect x="138.50" y="166.00" width="13.00" height="3.60" rx="1.80" fill="rgb(45,45,45)" filter="url(#bl)"/>
<rect x="139.00" y="164.20" width="12.00" height="2.00" rx="1.00" fill="rgb(204,204,204)" filter="url(#bl)"/>
<rect x="154.00" y="161.10" width="13.00" height="4.60" rx="2.30" fill="rgb(7,7,7)" filter="url(#bl)"/>
<rect x="154.00" y="166.30" width="13.00" height="4.20" rx="2.10" fill="rgb(10,10,10)" filter="url(#bl)"/>
<rect x="154.25" y="165.00" width="12.50" height="2.00" rx="1.00" fill="rgb(71,71,71)" filter="url(#bl)"/>
<rect x="169.00" y="161.10" width="13.00" height="4.60" rx="2.30" fill="rgb(7,7,7)" filter="url(#bl)"/>
<rect x="169.00" y="166.30" width="13.00" height="4.20" rx="2.10" fill="rgb(10,10,10)" filter="url(#bl)"/>
<rect x="169.25" y="165.00" width="12.50" height="2.00" rx="1.00" fill="rgb(71,71,71)" filter="url(#bl)"/>
<rect x="184.50" y="161.10" width="13.00" height="4.60" rx="2.30" fill="rgb(7,7,7)" filter="url(#bl)"/>
<rect x="184.50" y="166.30" width="13.00" height="4.20" rx="2.10" fill="rgb(10,10,10)" filter="url(#bl)"/>
<rect x="184.75" y="165.00" width="12.50" height="2.00" rx="1.00" fill="rgb(71,71,71)" filter="url(#bl)"/>
<rect x="200.00" y="161.10" width="13.00" height="4.60" rx="2.30" fill="rgb(7,7,7)" filter="url(#bl)"/>
<rect x="200.00" y="166.30" width="13.00" height="4.20" rx="2.10" fill="rgb(10,10,10)" filter="url(#bl)"/>
<rect x="200.25" y="165.00" width="12.50" height="2.00" rx="1.00" fill="rgb(71,71,71)" filter="url(#bl)"/>
<rect x="88.5" y="173.5" width="133.1" height="16.80000000000001" fill="url(#bgD)" stroke="#151515" stroke-width="1.2"/>
<rect x="90.50" y="180.50" width="15.00" height="3.00" rx="1.50" fill="rgb(178,178,178)" filter="url(#bl2)"/>
<rect x="90.00" y="177.10" width="16.00" height="4.60" rx="2.30" fill="rgb(20,20,20)" filter="url(#bl)"/>
<rect x="91.00" y="182.90" width="14.00" height="3.00" rx="1.50" fill="rgb(38,38,38)" filter="url(#bl)"/>
<rect x="106.00" y="180.50" width="15.00" height="3.00" rx="1.50" fill="rgb(178,178,178)" filter="url(#bl2)"/>
<rect x="105.50" y="177.10" width="16.00" height="4.60" rx="2.30" fill="rgb(20,20,20)" filter="url(#bl)"/>
<rect x="106.50" y="182.90" width="14.00" height="3.00" rx="1.50" fill="rgb(127,127,127)" filter="url(#bl)"/>
<rect x="121.50" y="180.50" width="15.00" height="3.00" rx="1.50" fill="rgb(178,178,178)" filter="url(#bl2)"/>
<rect x="121.00" y="177.10" width="16.00" height="4.60" rx="2.30" fill="rgb(20,20,20)" filter="url(#bl)"/>
<rect x="122.00" y="182.90" width="14.00" height="3.00" rx="1.50" fill="rgb(96,96,96)" filter="url(#bl)"/>
<rect x="137.50" y="180.50" width="15.00" height="3.00" rx="1.50" fill="rgb(178,178,178)" filter="url(#bl2)"/>
<rect x="137.00" y="177.10" width="16.00" height="4.60" rx="2.30" fill="rgb(20,20,20)" filter="url(#bl)"/>
<rect x="138.00" y="182.90" width="14.00" height="3.00" rx="1.50" fill="rgb(38,38,38)" filter="url(#bl)"/>
<rect x="153.00" y="180.50" width="15.00" height="3.00" rx="1.50" fill="rgb(140,140,140)" filter="url(#bl2)"/>
<rect x="152.50" y="177.10" width="16.00" height="4.60" rx="2.30" fill="rgb(30,30,30)" filter="url(#bl)"/>
<rect x="153.50" y="182.90" width="14.00" height="3.00" rx="1.50" fill="rgb(102,102,102)" filter="url(#bl)"/>
<rect x="168.00" y="180.50" width="15.00" height="3.00" rx="1.50" fill="rgb(140,140,140)" filter="url(#bl2)"/>
<rect x="167.50" y="177.10" width="16.00" height="4.60" rx="2.30" fill="rgb(30,30,30)" filter="url(#bl)"/>
<rect x="168.50" y="182.90" width="14.00" height="3.00" rx="1.50" fill="rgb(114,114,114)" filter="url(#bl)"/>
<rect x="183.50" y="180.50" width="15.00" height="3.00" rx="1.50" fill="rgb(140,140,140)" filter="url(#bl2)"/>
<rect x="183.00" y="177.10" width="16.00" height="4.60" rx="2.30" fill="rgb(30,30,30)" filter="url(#bl)"/>
<rect x="184.00" y="182.90" width="14.00" height="3.00" rx="1.50" fill="rgb(114,114,114)" filter="url(#bl)"/>
<rect x="199.00" y="180.50" width="15.00" height="3.00" rx="1.50" fill="rgb(140,140,140)" filter="url(#bl2)"/>
<rect x="198.50" y="177.10" width="16.00" height="4.60" rx="2.30" fill="rgb(30,30,30)" filter="url(#bl)"/>
<rect x="199.50" y="182.90" width="14.00" height="3.00" rx="1.50" fill="rgb(102,102,102)" filter="url(#bl)"/>
<rect x="88.5" y="191.5" width="133.1" height="8.300000000000011" fill="url(#bgD)" stroke="#151515" stroke-width="1.2"/>
<rect x="91.25" y="194.20" width="13.50" height="3.00" rx="1.50" fill="rgb(20,20,20)" filter="url(#bl)"/>
<rect x="106.75" y="194.20" width="13.50" height="3.00" rx="1.50" fill="rgb(30,30,30)" filter="url(#bl)"/>
<rect x="122.25" y="194.20" width="13.50" height="3.00" rx="1.50" fill="rgb(178,178,178)" filter="url(#bl)"/>
<rect x="138.25" y="194.20" width="13.50" height="3.00" rx="1.50" fill="rgb(114,114,114)" filter="url(#bl)"/>
<rect x="153.75" y="194.20" width="13.50" height="3.00" rx="1.50" fill="rgb(38,38,38)" filter="url(#bl)"/>
<rect x="168.75" y="194.20" width="13.50" height="3.00" rx="1.50" fill="rgb(45,45,45)" filter="url(#bl)"/>
<rect x="184.25" y="194.20" width="13.50" height="3.00" rx="1.50" fill="rgb(183,183,183)" filter="url(#bl)"/>
<rect x="199.75" y="194.20" width="13.50" height="3.00" rx="1.50" fill="rgb(122,122,122)" filter="url(#bl)"/>
<rect x="88.5" y="202.3" width="133.1" height="8.199999999999989" fill="url(#bgD)" stroke="#151515" stroke-width="1.2"/>
<rect x="89.75" y="203.50" width="16.50" height="3.60" rx="1.80" fill="rgb(17,17,17)" filter="url(#bl)"/>
<rect x="105.25" y="203.50" width="16.50" height="3.60" rx="1.80" fill="rgb(17,17,17)" filter="url(#bl)"/>
<rect x="120.75" y="203.50" width="16.50" height="3.60" rx="1.80" fill="rgb(17,17,17)" filter="url(#bl)"/>
<rect x="136.75" y="203.50" width="16.50" height="3.60" rx="1.80" fill="rgb(17,17,17)" filter="url(#bl)"/>
<rect x="152.25" y="203.50" width="16.50" height="3.60" rx="1.80" fill="rgb(17,17,17)" filter="url(#bl)"/>
<rect x="167.25" y="203.50" width="16.50" height="3.60" rx="1.80" fill="rgb(17,17,17)" filter="url(#bl)"/>
<rect x="182.75" y="203.50" width="16.50" height="3.60" rx="1.80" fill="rgb(17,17,17)" filter="url(#bl)"/>
<rect x="198.25" y="203.50" width="16.50" height="3.60" rx="1.80" fill="rgb(17,17,17)" filter="url(#bl)"/>
<rect x="88.5" y="212.5" width="133.1" height="8.5" fill="url(#bgD)" stroke="#151515" stroke-width="1.2"/>
<rect x="90.00" y="214.10" width="16.00" height="3.00" rx="1.50" fill="rgb(20,20,20)" filter="url(#bl)"/>
<rect x="105.50" y="214.10" width="16.00" height="3.00" rx="1.50" fill="rgb(20,20,20)" filter="url(#bl)"/>
<rect x="121.00" y="214.10" width="16.00" height="3.00" rx="1.50" fill="rgb(20,20,20)" filter="url(#bl)"/>
<rect x="137.00" y="214.10" width="16.00" height="3.00" rx="1.50" fill="rgb(20,20,20)" filter="url(#bl)"/>
<rect x="152.50" y="214.10" width="16.00" height="3.00" rx="1.50" fill="rgb(20,20,20)" filter="url(#bl)"/>
<rect x="167.50" y="214.10" width="16.00" height="3.00" rx="1.50" fill="rgb(20,20,20)" filter="url(#bl)"/>
<rect x="183.00" y="214.10" width="16.00" height="3.00" rx="1.50" fill="rgb(20,20,20)" filter="url(#bl)"/>
<rect x="198.50" y="214.10" width="16.00" height="3.00" rx="1.50" fill="rgb(20,20,20)" filter="url(#bl)"/>
<rect x="88.5" y="223.5" width="133.1" height="13.0" fill="url(#bgD)" stroke="#151515" stroke-width="1.2"/>
<rect x="90.75" y="224.20" width="14.50" height="2.80" rx="1.40" fill="rgb(17,17,17)" filter="url(#bl)"/>
<rect x="89.75" y="228.80" width="16.50" height="4.20" rx="2.10" fill="rgb(12,12,12)" filter="url(#bl)"/>
<rect x="106.25" y="224.20" width="14.50" height="2.80" rx="1.40" fill="rgb(56,56,56)" filter="url(#bl)"/>
<rect x="105.25" y="228.80" width="16.50" height="4.20" rx="2.10" fill="rgb(12,12,12)" filter="url(#bl)"/>
<rect x="121.75" y="224.20" width="14.50" height="2.80" rx="1.40" fill="rgb(56,56,56)" filter="url(#bl)"/>
<rect x="120.75" y="228.80" width="16.50" height="4.20" rx="2.10" fill="rgb(12,12,12)" filter="url(#bl)"/>
<rect x="137.75" y="224.20" width="14.50" height="2.80" rx="1.40" fill="rgb(56,56,56)" filter="url(#bl)"/>
<rect x="136.75" y="228.80" width="16.50" height="4.20" rx="2.10" fill="rgb(12,12,12)" filter="url(#bl)"/>
<rect x="153.25" y="224.20" width="14.50" height="2.80" rx="1.40" fill="rgb(56,56,56)" filter="url(#bl)"/>
<rect x="152.25" y="228.80" width="16.50" height="4.20" rx="2.10" fill="rgb(12,12,12)" filter="url(#bl)"/>
<rect x="168.25" y="224.20" width="14.50" height="2.80" rx="1.40" fill="rgb(56,56,56)" filter="url(#bl)"/>
<rect x="167.25" y="228.80" width="16.50" height="4.20" rx="2.10" fill="rgb(12,12,12)" filter="url(#bl)"/>
<rect x="183.75" y="224.20" width="14.50" height="2.80" rx="1.40" fill="rgb(56,56,56)" filter="url(#bl)"/>
<rect x="182.75" y="228.80" width="16.50" height="4.20" rx="2.10" fill="rgb(12,12,12)" filter="url(#bl)"/>
<rect x="199.25" y="224.20" width="14.50" height="2.80" rx="1.40" fill="rgb(56,56,56)" filter="url(#bl)"/>
<rect x="198.25" y="228.80" width="16.50" height="4.20" rx="2.10" fill="rgb(12,12,12)" filter="url(#bl)"/>
<text x="95.7" y="245.1" font-size="8.5" fill="#333" text-anchor="middle" textLength="3.9" lengthAdjust="spacingAndGlyphs" stroke="#333" stroke-width="0.25">–</text>
<text x="95.7" y="256.7" font-size="8.5" fill="#333" text-anchor="middle" textLength="3.9" lengthAdjust="spacingAndGlyphs" stroke="#333" stroke-width="0.25">–</text>
<text x="95.7" y="267.5" font-size="8.5" fill="#333" text-anchor="middle" textLength="3.9" lengthAdjust="spacingAndGlyphs" stroke="#333" stroke-width="0.25">–</text>
<text x="111.6" y="246.0" font-size="8.5" fill="#333" text-anchor="middle" stroke="#333" stroke-width="0.25">+</text>
<text x="111.6" y="256.7" font-size="8.5" fill="#333" text-anchor="middle" textLength="3.9" lengthAdjust="spacingAndGlyphs" stroke="#333" stroke-width="0.25">–</text>
<text x="111.6" y="267.5" font-size="8.5" fill="#333" text-anchor="middle" textLength="3.9" lengthAdjust="spacingAndGlyphs" stroke="#333" stroke-width="0.25">–</text>
<text x="127.8" y="245.1" font-size="8.5" fill="#333" text-anchor="middle" textLength="3.9" lengthAdjust="spacingAndGlyphs" stroke="#333" stroke-width="0.25">–</text>
<text x="127.8" y="257.6" font-size="8.5" fill="#333" text-anchor="middle" stroke="#333" stroke-width="0.25">+</text>
<text x="127.8" y="267.5" font-size="8.5" fill="#333" text-anchor="middle" textLength="3.9" lengthAdjust="spacingAndGlyphs" stroke="#333" stroke-width="0.25">–</text>
<text x="143.9" y="245.1" font-size="8.5" fill="#333" text-anchor="middle" textLength="3.9" lengthAdjust="spacingAndGlyphs" stroke="#333" stroke-width="0.25">–</text>
<text x="143.9" y="256.7" font-size="8.5" fill="#333" text-anchor="middle" textLength="3.9" lengthAdjust="spacingAndGlyphs" stroke="#333" stroke-width="0.25">–</text>
<text x="143.9" y="268.4" font-size="8.5" fill="#333" text-anchor="middle" stroke="#333" stroke-width="0.25">+</text>
<text x="160.3" y="245.1" font-size="8.5" fill="#333" text-anchor="middle" textLength="3.9" lengthAdjust="spacingAndGlyphs" stroke="#333" stroke-width="0.25">–</text>
<text x="160.3" y="256.7" font-size="8.5" fill="#333" text-anchor="middle" textLength="3.9" lengthAdjust="spacingAndGlyphs" stroke="#333" stroke-width="0.25">–</text>
<text x="160.3" y="267.5" font-size="8.5" fill="#333" text-anchor="middle" textLength="3.9" lengthAdjust="spacingAndGlyphs" stroke="#333" stroke-width="0.25">–</text>
<text x="176.5" y="246.0" font-size="8.5" fill="#333" text-anchor="middle" stroke="#333" stroke-width="0.25">+</text>
<text x="176.5" y="256.7" font-size="8.5" fill="#333" text-anchor="middle" textLength="3.9" lengthAdjust="spacingAndGlyphs" stroke="#333" stroke-width="0.25">–</text>
<text x="176.5" y="267.5" font-size="8.5" fill="#333" text-anchor="middle" textLength="3.9" lengthAdjust="spacingAndGlyphs" stroke="#333" stroke-width="0.25">–</text>
<text x="192.7" y="245.1" font-size="8.5" fill="#333" text-anchor="middle" textLength="3.9" lengthAdjust="spacingAndGlyphs" stroke="#333" stroke-width="0.25">–</text>
<text x="192.7" y="257.6" font-size="8.5" fill="#333" text-anchor="middle" stroke="#333" stroke-width="0.25">+</text>
<text x="192.7" y="267.5" font-size="8.5" fill="#333" text-anchor="middle" textLength="3.9" lengthAdjust="spacingAndGlyphs" stroke="#333" stroke-width="0.25">–</text>
<text x="208.8" y="245.1" font-size="8.5" fill="#333" text-anchor="middle" textLength="3.9" lengthAdjust="spacingAndGlyphs" stroke="#333" stroke-width="0.25">–</text>
<text x="208.8" y="256.7" font-size="8.5" fill="#333" text-anchor="middle" textLength="3.9" lengthAdjust="spacingAndGlyphs" stroke="#333" stroke-width="0.25">–</text>
<text x="208.8" y="268.4" font-size="8.5" fill="#333" text-anchor="middle" stroke="#333" stroke-width="0.25">+</text>
<text x="82" y="245.5" font-size="8.9" fill="#1a1a1a" text-anchor="end" textLength="39" lengthAdjust="spacingAndGlyphs" stroke="#1a1a1a" stroke-width="0.3">GLN 4mM</text>
<text x="82" y="256.6" font-size="8.9" fill="#1a1a1a" text-anchor="end" textLength="69.5" lengthAdjust="spacingAndGlyphs" stroke="#1a1a1a" stroke-width="0.3">Oligomycin 2.5μM</text>
<text x="82" y="267.6" font-size="8.9" fill="#1a1a1a" text-anchor="end" textLength="50" lengthAdjust="spacingAndGlyphs" stroke="#1a1a1a" stroke-width="0.3">SBI477 10μM</text>
<text x="85" y="293.2" font-size="10" fill="#1a1a1a" textLength="16" lengthAdjust="spacingAndGlyphs" stroke="#1a1a1a" stroke-width="0.3">Ctrl</text>
<text x="121" y="293.2" font-size="10" fill="#1a1a1a" textLength="28" lengthAdjust="spacingAndGlyphs" stroke="#1a1a1a" stroke-width="0.3">MKO1</text>
<text x="162.5" y="293.2" font-size="10" fill="#1a1a1a" textLength="27.5" lengthAdjust="spacingAndGlyphs" stroke="#1a1a1a" stroke-width="0.3">MKO2</text>
<text x="198" y="293.2" font-size="10" fill="#1a1a1a" textLength="40.80000000000001" lengthAdjust="spacingAndGlyphs" stroke="#1a1a1a" stroke-width="0.3">Overexpr</text>
<line x1="72.5" y1="295.7" x2="112" y2="295.7" stroke="#1a1a1a" stroke-width="1.1"/>
<line x1="114.5" y1="295.7" x2="154" y2="295.7" stroke="#1a1a1a" stroke-width="1.1"/>
<line x1="156" y1="295.7" x2="197" y2="295.7" stroke="#1a1a1a" stroke-width="1.1"/>
<line x1="198.8" y1="295.7" x2="238.8" y2="295.7" stroke="#1a1a1a" stroke-width="1.1"/>
<text x="57" y="307.2" font-size="10" fill="#1a1a1a" text-anchor="end" textLength="37.5" lengthAdjust="spacingAndGlyphs" stroke="#1a1a1a" stroke-width="0.3">MondoA</text>
<text x="57" y="317.6" font-size="10" fill="#1a1a1a" text-anchor="end" textLength="23" lengthAdjust="spacingAndGlyphs" stroke="#1a1a1a" stroke-width="0.3">PARP</text>
<text x="57" y="330.6" font-size="10" fill="#1a1a1a" text-anchor="end" textLength="23" lengthAdjust="spacingAndGlyphs" stroke="#1a1a1a" stroke-width="0.3">PARP</text>
<text x="57" y="341.1" font-size="10" fill="#1a1a1a" text-anchor="end" textLength="34.5" lengthAdjust="spacingAndGlyphs" stroke="#1a1a1a" stroke-width="0.3">cl-PARP</text>
<text x="57" y="357.6" font-size="10" fill="#1a1a1a" text-anchor="end" textLength="34" lengthAdjust="spacingAndGlyphs" stroke="#1a1a1a" stroke-width="0.3">GAPDH</text>
<rect x="61.5" y="299.3" width="194.0" height="17.5" fill="url(#bgF)" stroke="#151515" stroke-width="1.2"/>
<rect x="75.35" y="306.10" width="10.50" height="3.40" rx="1.70" fill="rgb(10,10,10)" filter="url(#bl)"/>
<rect x="75.35" y="310.60" width="10.50" height="3.20" rx="1.60" fill="rgb(12,12,12)" filter="url(#bl)"/>
<rect x="89.05" y="306.10" width="10.50" height="3.40" rx="1.70" fill="rgb(10,10,10)" filter="url(#bl)"/>
<rect x="89.05" y="310.60" width="10.50" height="3.20" rx="1.60" fill="rgb(12,12,12)" filter="url(#bl)"/>
<rect x="102.75" y="306.10" width="10.50" height="3.40" rx="1.70" fill="rgb(10,10,10)" filter="url(#bl)"/>
<rect x="102.75" y="310.60" width="10.50" height="3.20" rx="1.60" fill="rgb(12,12,12)" filter="url(#bl)"/>
<rect x="116.75" y="309.70" width="10.50" height="3.20" rx="1.60" fill="rgb(38,38,38)" filter="url(#bl)"/>
<rect x="130.75" y="309.70" width="10.50" height="3.20" rx="1.60" fill="rgb(25,25,25)" filter="url(#bl)"/>
<rect x="144.25" y="309.70" width="10.50" height="3.20" rx="1.60" fill="rgb(50,50,50)" filter="url(#bl)"/>
<rect x="158.45" y="309.70" width="10.50" height="3.20" rx="1.60" fill="rgb(102,102,102)" filter="url(#bl)"/>
<rect x="171.75" y="309.70" width="10.50" height="3.20" rx="1.60" fill="rgb(76,76,76)" filter="url(#bl)"/>
<rect x="185.45" y="309.70" width="10.50" height="3.20" rx="1.60" fill="rgb(71,71,71)" filter="url(#bl)"/>
<rect x="199.45" y="308.25" width="10.50" height="7.50" rx="2.50" fill="rgb(132,132,132)" filter="url(#bl2)"/>
<rect x="199.29999999999998" y="300" width="10.8" height="8.8" rx="3.6" fill="#000" filter="url(#bl)"/>
<rect x="199.70" y="309.60" width="10.00" height="2.00" rx="1.00" fill="rgb(114,114,114)" filter="url(#bl)"/>
<rect x="199.70" y="313.20" width="10.00" height="2.00" rx="1.00" fill="rgb(127,127,127)" filter="url(#bl)"/>
<rect x="213.35" y="308.25" width="10.50" height="7.50" rx="2.50" fill="rgb(132,132,132)" filter="url(#bl2)"/>
<rect x="213.2" y="300" width="10.8" height="8.8" rx="3.6" fill="#000" filter="url(#bl)"/>
<rect x="213.60" y="309.60" width="10.00" height="2.00" rx="1.00" fill="rgb(114,114,114)" filter="url(#bl)"/>
<rect x="213.60" y="313.20" width="10.00" height="2.00" rx="1.00" fill="rgb(127,127,127)" filter="url(#bl)"/>
<rect x="227.75" y="308.25" width="10.50" height="7.50" rx="2.50" fill="rgb(132,132,132)" filter="url(#bl2)"/>
<rect x="227.6" y="300" width="10.8" height="8.8" rx="3.6" fill="#000" filter="url(#bl)"/>
<rect x="228.00" y="309.60" width="10.00" height="2.00" rx="1.00" fill="rgb(114,114,114)" filter="url(#bl)"/>
<rect x="228.00" y="313.20" width="10.00" height="2.00" rx="1.00" fill="rgb(127,127,127)" filter="url(#bl)"/>
<path d="M61,310.6 L64,312.2 L61,313.8 Z" fill="#111"/>
<rect x="61.5" y="319.8" width="194.5" height="23.19999999999999" fill="url(#bgF)" stroke="#151515" stroke-width="1.2"/>
<rect x="74.60" y="324.95" width="12.00" height="4.70" rx="2.35" fill="rgb(5,5,5)" filter="url(#bl)"/>
<rect x="75.10" y="333.90" width="11.00" height="2.60" rx="1.30" fill="rgb(178,178,178)" filter="url(#bl)"/>
<rect x="88.30" y="324.95" width="12.00" height="4.70" rx="2.35" fill="rgb(5,5,5)" filter="url(#bl)"/>
<rect x="88.80" y="333.90" width="11.00" height="2.60" rx="1.30" fill="rgb(198,198,198)" filter="url(#bl)"/>
<rect x="102.00" y="324.95" width="12.00" height="4.70" rx="2.35" fill="rgb(5,5,5)" filter="url(#bl)"/>
<rect x="102.50" y="333.90" width="11.00" height="2.60" rx="1.30" fill="rgb(198,198,198)" filter="url(#bl)"/>
<rect x="116.00" y="324.95" width="12.00" height="4.70" rx="2.35" fill="rgb(5,5,5)" filter="url(#bl)"/>
<rect x="116.50" y="333.90" width="11.00" height="2.60" rx="1.30" fill="rgb(25,25,25)" filter="url(#bl)"/>
<rect x="130.00" y="324.95" width="12.00" height="4.70" rx="2.35" fill="rgb(5,5,5)" filter="url(#bl)"/>
<rect x="130.50" y="333.90" width="11.00" height="2.60" rx="1.30" fill="rgb(165,165,165)" filter="url(#bl)"/>
<rect x="143.50" y="324.95" width="12.00" height="4.70" rx="2.35" fill="rgb(5,5,5)" filter="url(#bl)"/>
<rect x="144.00" y="333.90" width="11.00" height="2.60" rx="1.30" fill="rgb(127,127,127)" filter="url(#bl)"/>
<rect x="157.70" y="324.95" width="12.00" height="4.70" rx="2.35" fill="rgb(5,5,5)" filter="url(#bl)"/>
<rect x="158.20" y="333.90" width="11.00" height="2.60" rx="1.30" fill="rgb(25,25,25)" filter="url(#bl)"/>
<rect x="171.00" y="324.95" width="12.00" height="4.70" rx="2.35" fill="rgb(5,5,5)" filter="url(#bl)"/>
<rect x="171.50" y="333.90" width="11.00" height="2.60" rx="1.30" fill="rgb(165,165,165)" filter="url(#bl)"/>
<rect x="184.70" y="324.95" width="12.00" height="4.70" rx="2.35" fill="rgb(5,5,5)" filter="url(#bl)"/>
<rect x="185.20" y="333.90" width="11.00" height="2.60" rx="1.30" fill="rgb(127,127,127)" filter="url(#bl)"/>
<rect x="198.70" y="324.95" width="12.00" height="4.70" rx="2.35" fill="rgb(5,5,5)" filter="url(#bl)"/>
<rect x="199.20" y="333.90" width="11.00" height="2.60" rx="1.30" fill="rgb(178,178,178)" filter="url(#bl)"/>
<rect x="212.60" y="324.95" width="12.00" height="4.70" rx="2.35" fill="rgb(5,5,5)" filter="url(#bl)"/>
<rect x="213.10" y="333.90" width="11.00" height="2.60" rx="1.30" fill="rgb(209,209,209)" filter="url(#bl)"/>
<rect x="227.00" y="324.95" width="12.00" height="4.70" rx="2.35" fill="rgb(5,5,5)" filter="url(#bl)"/>
<rect x="227.50" y="333.90" width="11.00" height="2.60" rx="1.30" fill="rgb(204,204,204)" filter="url(#bl)"/>
<rect x="241.50" y="333.90" width="11.00" height="2.60" rx="1.30" fill="rgb(224,224,224)" filter="url(#bl)"/>
<rect x="61.5" y="345.8" width="194.0" height="17.69999999999999" fill="url(#bgF)" stroke="#151515" stroke-width="1.2"/>
<rect x="241.00" y="346.50" width="14.00" height="16.00" rx="2.50" fill="rgb(219,219,219)" filter="url(#bl2)"/>
<rect x="73.85" y="351.90" width="13.50" height="5.20" rx="2.50" fill="rgb(5,5,5)" filter="url(#bl)"/>
<rect x="87.55" y="351.90" width="13.50" height="5.20" rx="2.50" fill="rgb(5,5,5)" filter="url(#bl)"/>
<rect x="101.25" y="351.90" width="13.50" height="5.20" rx="2.50" fill="rgb(5,5,5)" filter="url(#bl)"/>
<rect x="115.25" y="351.90" width="13.50" height="5.20" rx="2.50" fill="rgb(5,5,5)" filter="url(#bl)"/>
<rect x="129.25" y="351.90" width="13.50" height="5.20" rx="2.50" fill="rgb(5,5,5)" filter="url(#bl)"/>
<rect x="142.75" y="351.90" width="13.50" height="5.20" rx="2.50" fill="rgb(5,5,5)" filter="url(#bl)"/>
<rect x="156.95" y="351.90" width="13.50" height="5.20" rx="2.50" fill="rgb(5,5,5)" filter="url(#bl)"/>
<rect x="170.25" y="351.90" width="13.50" height="5.20" rx="2.50" fill="rgb(5,5,5)" filter="url(#bl)"/>
<rect x="183.95" y="351.90" width="13.50" height="5.20" rx="2.50" fill="rgb(5,5,5)" filter="url(#bl)"/>
<rect x="197.95" y="351.90" width="13.50" height="5.20" rx="2.50" fill="rgb(5,5,5)" filter="url(#bl)"/>
<rect x="211.85" y="351.90" width="13.50" height="5.20" rx="2.50" fill="rgb(5,5,5)" filter="url(#bl)"/>
<rect x="226.25" y="351.90" width="13.50" height="5.20" rx="2.50" fill="rgb(5,5,5)" filter="url(#bl)"/>
<text x="81.5" y="375.0" font-size="8.5" fill="#333" text-anchor="middle" textLength="4" lengthAdjust="spacingAndGlyphs" stroke="#333" stroke-width="0.25">–</text>
<text x="81.5" y="390.0" font-size="8.5" fill="#333" text-anchor="middle" textLength="4" lengthAdjust="spacingAndGlyphs" stroke="#333" stroke-width="0.25">–</text>
<text x="95.6" y="375.9" font-size="8.5" fill="#333" text-anchor="middle" stroke="#333" stroke-width="0.25">+</text>
<text x="95.6" y="390.0" font-size="8.5" fill="#333" text-anchor="middle" textLength="4" lengthAdjust="spacingAndGlyphs" stroke="#333" stroke-width="0.25">–</text>
<text x="109.8" y="375.0" font-size="8.5" fill="#333" text-anchor="middle" textLength="4" lengthAdjust="spacingAndGlyphs" stroke="#333" stroke-width="0.25">–</text>
<text x="109.8" y="390.9" font-size="8.5" fill="#333" text-anchor="middle" stroke="#333" stroke-width="0.25">+</text>
<text x="123.9" y="375.0" font-size="8.5" fill="#333" text-anchor="middle" textLength="4" lengthAdjust="spacingAndGlyphs" stroke="#333" stroke-width="0.25">–</text>
<text x="123.9" y="390.0" font-size="8.5" fill="#333" text-anchor="middle" textLength="4" lengthAdjust="spacingAndGlyphs" stroke="#333" stroke-width="0.25">–</text>
<text x="138.0" y="375.9" font-size="8.5" fill="#333" text-anchor="middle" stroke="#333" stroke-width="0.25">+</text>
<text x="138.0" y="390.0" font-size="8.5" fill="#333" text-anchor="middle" textLength="4" lengthAdjust="spacingAndGlyphs" stroke="#333" stroke-width="0.25">–</text>
<text x="152.5" y="375.0" font-size="8.5" fill="#333" text-anchor="middle" textLength="4" lengthAdjust="spacingAndGlyphs" stroke="#333" stroke-width="0.25">–</text>
<text x="152.5" y="390.9" font-size="8.5" fill="#333" text-anchor="middle" stroke="#333" stroke-width="0.25">+</text>
<text x="166.7" y="375.0" font-size="8.5" fill="#333" text-anchor="middle" textLength="4" lengthAdjust="spacingAndGlyphs" stroke="#333" stroke-width="0.25">–</text>
<text x="166.7" y="390.0" font-size="8.5" fill="#333" text-anchor="middle" textLength="4" lengthAdjust="spacingAndGlyphs" stroke="#333" stroke-width="0.25">–</text>
<text x="180.9" y="375.9" font-size="8.5" fill="#333" text-anchor="middle" stroke="#333" stroke-width="0.25">+</text>
<text x="180.9" y="390.0" font-size="8.5" fill="#333" text-anchor="middle" textLength="4" lengthAdjust="spacingAndGlyphs" stroke="#333" stroke-width="0.25">–</text>
<text x="195.0" y="375.0" font-size="8.5" fill="#333" text-anchor="middle" textLength="4" lengthAdjust="spacingAndGlyphs" stroke="#333" stroke-width="0.25">–</text>
<text x="195.0" y="390.9" font-size="8.5" fill="#333" text-anchor="middle" stroke="#333" stroke-width="0.25">+</text>
<text x="209.1" y="375.0" font-size="8.5" fill="#333" text-anchor="middle" textLength="4" lengthAdjust="spacingAndGlyphs" stroke="#333" stroke-width="0.25">–</text>
<text x="209.1" y="390.0" font-size="8.5" fill="#333" text-anchor="middle" textLength="4" lengthAdjust="spacingAndGlyphs" stroke="#333" stroke-width="0.25">–</text>
<text x="224.1" y="375.9" font-size="8.5" fill="#333" text-anchor="middle" stroke="#333" stroke-width="0.25">+</text>
<text x="224.1" y="390.0" font-size="8.5" fill="#333" text-anchor="middle" textLength="4" lengthAdjust="spacingAndGlyphs" stroke="#333" stroke-width="0.25">–</text>
<text x="238.2" y="375.0" font-size="8.5" fill="#333" text-anchor="middle" textLength="4" lengthAdjust="spacingAndGlyphs" stroke="#333" stroke-width="0.25">–</text>
<text x="238.2" y="390.9" font-size="8.5" fill="#333" text-anchor="middle" stroke="#333" stroke-width="0.25">+</text>
<text x="57" y="376.6" font-size="10" fill="#1a1a1a" text-anchor="end" textLength="44.5" lengthAdjust="spacingAndGlyphs" stroke="#1a1a1a" stroke-width="0.3">GLN 4mM</text>
<text x="57" y="390.2" font-size="10" fill="#1a1a1a" text-anchor="end" textLength="42.5" lengthAdjust="spacingAndGlyphs" stroke="#1a1a1a" stroke-width="0.3">ASP 1mM</text>
<text x="336" y="293.2" font-size="10" fill="#1a1a1a" textLength="16" lengthAdjust="spacingAndGlyphs" stroke="#1a1a1a" stroke-width="0.3">Ctrl</text>
<text x="376" y="293.2" font-size="10" fill="#1a1a1a" textLength="26.5" lengthAdjust="spacingAndGlyphs" stroke="#1a1a1a" stroke-width="0.3">MKO1</text>
<text x="422" y="293.2" font-size="10" fill="#1a1a1a" textLength="28" lengthAdjust="spacingAndGlyphs" stroke="#1a1a1a" stroke-width="0.3">MKO2</text>
<text x="461" y="293.2" font-size="10" fill="#1a1a1a" textLength="41.5" lengthAdjust="spacingAndGlyphs" stroke="#1a1a1a" stroke-width="0.3">Overexpr</text>
<line x1="324.5" y1="295.7" x2="367" y2="295.7" stroke="#1a1a1a" stroke-width="1.1"/>
<line x1="370" y1="295.7" x2="412.5" y2="295.7" stroke="#1a1a1a" stroke-width="1.1"/>
<line x1="415" y1="295.7" x2="457.5" y2="295.7" stroke="#1a1a1a" stroke-width="1.1"/>
<line x1="460" y1="295.7" x2="502.5" y2="295.7" stroke="#1a1a1a" stroke-width="1.1"/>
<text x="315.5" y="308.1" font-size="9" fill="#1a1a1a" text-anchor="end" textLength="33.6" lengthAdjust="spacingAndGlyphs" stroke="#1a1a1a" stroke-width="0.3">MondoA</text>
<text x="315.5" y="325.5" font-size="9" fill="#1a1a1a" text-anchor="end" textLength="20.8" lengthAdjust="spacingAndGlyphs" stroke="#1a1a1a" stroke-width="0.3">PARP</text>
<text x="315.5" y="335" font-size="9" fill="#1a1a1a" text-anchor="end" textLength="30.4" lengthAdjust="spacingAndGlyphs" stroke="#1a1a1a" stroke-width="0.3">cl-PARP</text>
<text x="315.5" y="350.8" font-size="9" fill="#1a1a1a" text-anchor="end" textLength="29.8" lengthAdjust="spacingAndGlyphs" stroke="#1a1a1a" stroke-width="0.3">GAPDH</text>
<rect x="319.5" y="299.3" width="193.0" height="13.699999999999989" fill="url(#bgF)" stroke="#151515" stroke-width="1.2"/>
<rect x="322.80" y="306.20" width="11.00" height="2.80" rx="1.40" fill="rgb(50,50,50)" filter="url(#bl)"/>
<rect x="338.50" y="306.20" width="11.00" height="2.80" rx="1.40" fill="rgb(50,50,50)" filter="url(#bl)"/>
<rect x="353.50" y="306.20" width="11.00" height="2.80" rx="1.40" fill="rgb(50,50,50)" filter="url(#bl)"/>
<rect x="462.05" y="302.90" width="12.50" height="5.20" rx="2.50" fill="rgb(2,2,2)" filter="url(#bl)"/>
<rect x="478.05" y="302.90" width="12.50" height="5.20" rx="2.50" fill="rgb(2,2,2)" filter="url(#bl)"/>
<rect x="494.05" y="302.90" width="12.50" height="5.20" rx="2.50" fill="rgb(2,2,2)" filter="url(#bl)"/>
<rect x="319.5" y="315.3" width="193.0" height="19.899999999999977" fill="url(#bgG)" stroke="#151515" stroke-width="1.2"/>
<rect x="322.05" y="321.00" width="12.50" height="4.80" rx="2.40" fill="rgb(5,5,5)" filter="url(#bl)"/>
<rect x="322.55" y="330.30" width="11.50" height="2.40" rx="1.20" fill="rgb(178,178,178)" filter="url(#bl)"/>
<rect x="337.75" y="321.00" width="12.50" height="4.80" rx="2.40" fill="rgb(5,5,5)" filter="url(#bl)"/>
<rect x="338.25" y="330.30" width="11.50" height="2.40" rx="1.20" fill="rgb(178,178,178)" filter="url(#bl)"/>
<rect x="352.75" y="321.00" width="12.50" height="4.80" rx="2.40" fill="rgb(5,5,5)" filter="url(#bl)"/>
<rect x="353.25" y="330.30" width="11.50" height="2.40" rx="1.20" fill="rgb(38,38,38)" filter="url(#bl)"/>
<rect x="367.95" y="321.00" width="12.50" height="4.80" rx="2.40" fill="rgb(5,5,5)" filter="url(#bl)"/>
<rect x="368.45" y="330.30" width="11.50" height="2.40" rx="1.20" fill="rgb(38,38,38)" filter="url(#bl)"/>
<rect x="383.25" y="321.00" width="12.50" height="4.80" rx="2.40" fill="rgb(5,5,5)" filter="url(#bl)"/>
<rect x="383.75" y="330.30" width="11.50" height="2.40" rx="1.20" fill="rgb(178,178,178)" filter="url(#bl)"/>
<rect x="398.55" y="321.00" width="12.50" height="4.80" rx="2.40" fill="rgb(5,5,5)" filter="url(#bl)"/>
<rect x="399.05" y="330.30" width="11.50" height="2.40" rx="1.20" fill="rgb(38,38,38)" filter="url(#bl)"/>
<rect x="414.15" y="321.00" width="12.50" height="4.80" rx="2.40" fill="rgb(5,5,5)" filter="url(#bl)"/>
<rect x="414.65" y="330.30" width="11.50" height="2.40" rx="1.20" fill="rgb(38,38,38)" filter="url(#bl)"/>
<rect x="429.95" y="321.00" width="12.50" height="4.80" rx="2.40" fill="rgb(5,5,5)" filter="url(#bl)"/>
<rect x="430.45" y="330.30" width="11.50" height="2.40" rx="1.20" fill="rgb(178,178,178)" filter="url(#bl)"/>
<rect x="445.75" y="321.00" width="12.50" height="4.80" rx="2.40" fill="rgb(5,5,5)" filter="url(#bl)"/>
<rect x="446.25" y="330.30" width="11.50" height="2.40" rx="1.20" fill="rgb(38,38,38)" filter="url(#bl)"/>
<rect x="462.05" y="321.00" width="12.50" height="4.80" rx="2.40" fill="rgb(5,5,5)" filter="url(#bl)"/>
<rect x="462.30" y="317.80" width="12.00" height="3.20" rx="1.60" fill="rgb(12,12,12)" filter="url(#bl)"/>
<rect x="462.30" y="326.80" width="12.00" height="6.00" rx="2.50" fill="rgb(147,147,147)" filter="url(#bl2)"/>
<rect x="462.55" y="330.30" width="11.50" height="2.40" rx="1.20" fill="rgb(204,204,204)" filter="url(#bl)"/>
<rect x="478.05" y="321.00" width="12.50" height="4.80" rx="2.40" fill="rgb(5,5,5)" filter="url(#bl)"/>
<rect x="478.30" y="317.80" width="12.00" height="3.20" rx="1.60" fill="rgb(12,12,12)" filter="url(#bl)"/>
<rect x="478.30" y="326.80" width="12.00" height="6.00" rx="2.50" fill="rgb(147,147,147)" filter="url(#bl2)"/>
<rect x="478.55" y="330.30" width="11.50" height="2.40" rx="1.20" fill="rgb(204,204,204)" filter="url(#bl)"/>
<rect x="494.05" y="321.00" width="12.50" height="4.80" rx="2.40" fill="rgb(5,5,5)" filter="url(#bl)"/>
<rect x="494.30" y="317.80" width="12.00" height="3.20" rx="1.60" fill="rgb(12,12,12)" filter="url(#bl)"/>
<rect x="494.30" y="326.80" width="12.00" height="6.00" rx="2.50" fill="rgb(147,147,147)" filter="url(#bl2)"/>
<rect x="494.55" y="330.30" width="11.50" height="2.40" rx="1.20" fill="rgb(204,204,204)" filter="url(#bl)"/>
<rect x="319" y="335.7" width="194" height="2" fill="#8a8a8a"/>
<rect x="319.5" y="338" width="193.0" height="19.5" fill="url(#bgG)" stroke="#151515" stroke-width="1.2"/>
<rect x="322.80" y="341.70" width="11.00" height="1.80" rx="0.90" fill="rgb(165,165,165)" filter="url(#bl)"/>
<rect x="321.05" y="346.90" width="14.50" height="5.40" rx="2.50" fill="rgb(5,5,5)" filter="url(#bl)"/>
<rect x="338.50" y="341.70" width="11.00" height="1.80" rx="0.90" fill="rgb(165,165,165)" filter="url(#bl)"/>
<rect x="336.75" y="346.90" width="14.50" height="5.40" rx="2.50" fill="rgb(5,5,5)" filter="url(#bl)"/>
<rect x="353.50" y="341.70" width="11.00" height="1.80" rx="0.90" fill="rgb(165,165,165)" filter="url(#bl)"/>
<rect x="351.75" y="346.90" width="14.50" height="5.40" rx="2.50" fill="rgb(5,5,5)" filter="url(#bl)"/>
<rect x="368.70" y="341.70" width="11.00" height="1.80" rx="0.90" fill="rgb(165,165,165)" filter="url(#bl)"/>
<rect x="366.95" y="346.90" width="14.50" height="5.40" rx="2.50" fill="rgb(5,5,5)" filter="url(#bl)"/>
<rect x="384.00" y="341.70" width="11.00" height="1.80" rx="0.90" fill="rgb(165,165,165)" filter="url(#bl)"/>
<rect x="382.25" y="346.90" width="14.50" height="5.40" rx="2.50" fill="rgb(5,5,5)" filter="url(#bl)"/>
<rect x="399.30" y="341.70" width="11.00" height="1.80" rx="0.90" fill="rgb(165,165,165)" filter="url(#bl)"/>
<rect x="397.55" y="346.90" width="14.50" height="5.40" rx="2.50" fill="rgb(5,5,5)" filter="url(#bl)"/>
<rect x="414.90" y="341.70" width="11.00" height="1.80" rx="0.90" fill="rgb(165,165,165)" filter="url(#bl)"/>
<rect x="413.15" y="346.90" width="14.50" height="5.40" rx="2.50" fill="rgb(5,5,5)" filter="url(#bl)"/>
<rect x="430.70" y="341.70" width="11.00" height="1.80" rx="0.90" fill="rgb(165,165,165)" filter="url(#bl)"/>
<rect x="428.95" y="346.90" width="14.50" height="5.40" rx="2.50" fill="rgb(5,5,5)" filter="url(#bl)"/>
<rect x="446.50" y="341.70" width="11.00" height="1.80" rx="0.90" fill="rgb(165,165,165)" filter="url(#bl)"/>
<rect x="444.75" y="346.90" width="14.50" height="5.40" rx="2.50" fill="rgb(5,5,5)" filter="url(#bl)"/>
<rect x="462.80" y="341.70" width="11.00" height="1.80" rx="0.90" fill="rgb(165,165,165)" filter="url(#bl)"/>
<rect x="461.05" y="346.90" width="14.50" height="5.40" rx="2.50" fill="rgb(5,5,5)" filter="url(#bl)"/>
<rect x="478.80" y="341.70" width="11.00" height="1.80" rx="0.90" fill="rgb(165,165,165)" filter="url(#bl)"/>
<rect x="477.05" y="346.90" width="14.50" height="5.40" rx="2.50" fill="rgb(5,5,5)" filter="url(#bl)"/>
<rect x="494.80" y="341.70" width="11.00" height="1.80" rx="0.90" fill="rgb(165,165,165)" filter="url(#bl)"/>
<rect x="493.05" y="346.90" width="14.50" height="5.40" rx="2.50" fill="rgb(5,5,5)" filter="url(#bl)"/>
<text x="330.5" y="370.5" font-size="8.5" fill="#333" text-anchor="middle" stroke="#333" stroke-width="0.25">–</text>
<text x="346.7" y="371.4" font-size="8.5" fill="#333" text-anchor="middle" stroke="#333" stroke-width="0.25">+</text>
<text x="362.5" y="370.5" font-size="8.5" fill="#333" text-anchor="middle" stroke="#333" stroke-width="0.25">–</text>
<text x="378.0" y="370.5" font-size="8.5" fill="#333" text-anchor="middle" stroke="#333" stroke-width="0.25">–</text>
<text x="393.5" y="371.4" font-size="8.5" fill="#333" text-anchor="middle" stroke="#333" stroke-width="0.25">+</text>
<text x="409.3" y="370.5" font-size="8.5" fill="#333" text-anchor="middle" stroke="#333" stroke-width="0.25">–</text>
<text x="425.0" y="370.5" font-size="8.5" fill="#333" text-anchor="middle" stroke="#333" stroke-width="0.25">–</text>
<text x="440.5" y="371.4" font-size="8.5" fill="#333" text-anchor="middle" stroke="#333" stroke-width="0.25">+</text>
<text x="456.0" y="370.5" font-size="8.5" fill="#333" text-anchor="middle" stroke="#333" stroke-width="0.25">–</text>
<text x="471.5" y="370.5" font-size="8.5" fill="#333" text-anchor="middle" stroke="#333" stroke-width="0.25">–</text>
<text x="487.5" y="371.4" font-size="8.5" fill="#333" text-anchor="middle" stroke="#333" stroke-width="0.25">+</text>
<text x="503.0" y="370.5" font-size="8.5" fill="#333" text-anchor="middle" stroke="#333" stroke-width="0.25">–</text>
<text x="330.5" y="384.42" font-size="8" fill="#333" text-anchor="middle" stroke="#333" stroke-width="0.25">+</text>
<text x="345.5" y="384.42" font-size="8" fill="#333" text-anchor="middle" stroke="#333" stroke-width="0.25">+</text>
<text x="361.7" y="384.42" font-size="8" fill="#333" text-anchor="middle" textLength="13" lengthAdjust="spacingAndGlyphs" stroke="#333" stroke-width="0.25">+++</text>
<text x="375.5" y="384.42" font-size="8" fill="#333" text-anchor="middle" stroke="#333" stroke-width="0.25">+</text>
<text x="390.5" y="384.42" font-size="8" fill="#333" text-anchor="middle" stroke="#333" stroke-width="0.25">+</text>
<text x="407.0" y="384.42" font-size="8" fill="#333" text-anchor="middle" textLength="13" lengthAdjust="spacingAndGlyphs" stroke="#333" stroke-width="0.25">+++</text>
<text x="421.0" y="384.42" font-size="8" fill="#333" text-anchor="middle" stroke="#333" stroke-width="0.25">+</text>
<text x="435.5" y="384.42" font-size="8" fill="#333" text-anchor="middle" stroke="#333" stroke-width="0.25">+</text>
<text x="453.5" y="384.42" font-size="8" fill="#333" text-anchor="middle" textLength="13" lengthAdjust="spacingAndGlyphs" stroke="#333" stroke-width="0.25">+++</text>
<text x="468.0" y="384.42" font-size="8" fill="#333" text-anchor="middle" stroke="#333" stroke-width="0.25">+</text>
<text x="481.5" y="384.42" font-size="8" fill="#333" text-anchor="middle" stroke="#333" stroke-width="0.25">+</text>
<text x="498.5" y="384.42" font-size="8" fill="#333" text-anchor="middle" textLength="13" lengthAdjust="spacingAndGlyphs" stroke="#333" stroke-width="0.25">+++</text>
<text x="315.5" y="372.2" font-size="9" fill="#1a1a1a" text-anchor="end" textLength="40" lengthAdjust="spacingAndGlyphs" stroke="#1a1a1a" stroke-width="0.3">GLN 4mM</text>
<text x="315.5" y="385.2" font-size="9" fill="#1a1a1a" text-anchor="end" textLength="31" lengthAdjust="spacingAndGlyphs" stroke="#1a1a1a" stroke-width="0.3">Glucose</text>
<text x="299.5" y="395.2" font-size="9" fill="#1a1a1a" text-anchor="middle" textLength="23" lengthAdjust="spacingAndGlyphs" stroke="#1a1a1a" stroke-width="0.3">20mM</text>
<rect x="0" y="0" width="520" height="1" fill="#000"/>
<rect x="0" y="0" width="1" height="401" fill="#000"/>
<rect x="518.8" y="0" width="1.2" height="401" fill="#000"/>
<rect x="0" y="399.8" width="520" height="1.2" fill="#000"/>
</svg></body></html>
